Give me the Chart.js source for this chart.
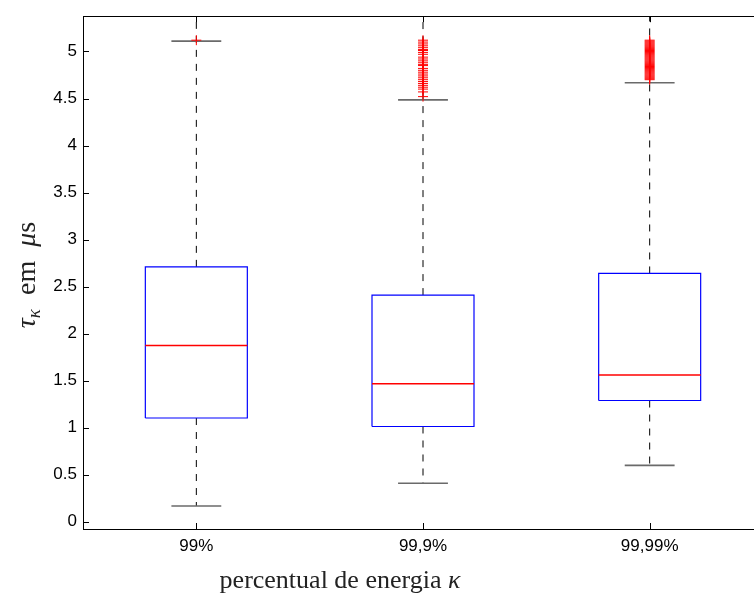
<!DOCTYPE html>
<html lang="pt">
<head>
<meta charset="UTF-8">
<title>Boxplot tau kappa</title>
<script src="https://cdn.jsdelivr.net/npm/chart.js"></script>
<style>
  html, body { margin: 0; padding: 0; background: #fff; overflow: hidden; }
</style>
</head>
<body>
<canvas id="myChart" width="770" height="596"></canvas>
<script>
// categories and box statistics (values in microseconds)
const categories = ['99%', '99,9%', '99,99%'];
const q1 = [1.103, 1.013, 1.289];
const median = [1.874, 1.467, 1.559];
const q3 = [2.71, 2.41, 2.64];
const whiskerLow = [0.168, 0.41, 0.599];
const whiskerHigh = [5.11, 4.485, 4.668];
const outliers = [
    [5.12],
    [4.52, 4.57, 4.60, 4.62, 4.64, 4.66, 4.68, 4.70, 4.72, 4.74, 4.76, 4.78, 4.80,
     4.82, 4.85, 4.86, 4.88, 4.90, 4.92, 4.94, 4.97, 4.99, 5.01, 5.02, 5.04, 5.06,
     5.08, 5.10, 5.12],
    [4.70, 4.71, 4.72, 4.73, 4.74, 4.75, 4.76, 4.77, 4.78, 4.79, 4.80, 4.81, 4.82,
     4.83, 4.84, 4.85, 4.86, 4.87, 4.88, 4.89, 4.90, 4.91, 4.92, 4.93, 4.94, 4.95,
     4.96, 4.97, 4.98, 4.99, 5.00, 5.01, 5.02, 5.03, 5.04, 5.05, 5.06, 5.07, 5.08,
     5.09, 5.10, 5.11, 5.12]
];
const yTicks = [0, 0.5, 1, 1.5, 2, 2.5, 3, 3.5, 4, 4.5, 5];
const yTickLabels = ['0', '0.5', '1', '1.5', '2', '2.5', '3', '3.5', '4', '4.5', '5'];
const yMin = -0.077, yMax = 5.375;

const boxHalf = 0.225;
const capHalf = 0.11;

function seg(data, color, width, dash, order) {
    return {
        data: data, showLine: true, borderColor: color, borderWidth: width,
        borderDash: dash || [], pointRadius: 0, fill: false, tension: 0, order: order
    };
}

const datasets = [];
categories.forEach((c, i) => {
    const x = i + 1;
    // whiskers (dashed) - upper one runs to the top of the axes
    datasets.push(seg([{x: x, y: q3[i]}, {x: x, y: yMax}], '#000', 1, [7, 7], 5));
    datasets.push(seg([{x: x, y: q1[i]}, {x: x, y: whiskerLow[i]}], '#000', 1, [7, 7], 5));
    // caps
    datasets.push(seg([{x: x - capHalf, y: whiskerHigh[i]}, {x: x + capHalf, y: whiskerHigh[i]}], '#6a6a6a', 1.6, null, 4));
    datasets.push(seg([{x: x - capHalf, y: whiskerLow[i]}, {x: x + capHalf, y: whiskerLow[i]}], '#6a6a6a', 1.6, null, 4));
    // box
    datasets.push(seg([
        {x: x - boxHalf, y: q1[i]}, {x: x + boxHalf, y: q1[i]},
        {x: x + boxHalf, y: q3[i]}, {x: x - boxHalf, y: q3[i]},
        {x: x - boxHalf, y: q1[i]}
    ], '#0000ff', 1.2, null, 3));
    // median
    datasets.push(seg([{x: x - boxHalf, y: median[i]}, {x: x + boxHalf, y: median[i]}], '#ff0000', 1.5, null, 2));
    // outliers
    datasets.push({
        data: outliers[i].map(v => ({x: x, y: v})),
        showLine: false, pointStyle: 'cross', pointRadius: 5, pointHoverRadius: 5,
        pointBorderColor: '#ff0000', pointBackgroundColor: '#ff0000',
        pointBorderWidth: 1, order: 1
    });
});

const frame = {
    id: 'frame',
    afterDraw(chart) {
        const ctx = chart.ctx;
        const a = chart.chartArea;
        const xs = chart.scales.x, ys = chart.scales.y;
        ctx.save();
        ctx.strokeStyle = '#000';
        ctx.lineWidth = 1;
        ctx.strokeRect(Math.round(a.left) + 0.5, Math.round(a.top) + 0.5,
            Math.round(a.right - a.left), Math.round(a.bottom - a.top));
        ctx.beginPath();
        yTicks.forEach(v => {
            const py = Math.round(ys.getPixelForValue(v)) + 0.5;
            ctx.moveTo(a.left, py); ctx.lineTo(a.left + 6, py);
            ctx.moveTo(a.right, py); ctx.lineTo(a.right - 6, py);
        });
        categories.forEach((c, i) => {
            const px = Math.round(xs.getPixelForValue(i + 1)) + 0.5;
            ctx.moveTo(px, a.bottom); ctx.lineTo(px, a.bottom - 6);
            ctx.moveTo(px, a.top); ctx.lineTo(px, a.top + 6);
        });
        ctx.stroke();

        // axis titles
        ctx.fillStyle = '#222';
        ctx.textBaseline = 'alphabetic';
        const xParts = [
            {t: 'percentual de energia ', f: '26px "Liberation Serif"', dy: 0},
            {t: 'κ', f: 'italic 26px "Liberation Serif"', dy: 0}
        ];
        drawParts(ctx, xParts, 340, 588);

        ctx.translate(35, 275);
        ctx.rotate(-Math.PI / 2);
        const yParts = [
            {t: 'τ', f: 'italic 28px "Liberation Serif"', dy: 0},
            {t: 'κ', f: 'italic 19px "Liberation Serif"', dy: 5},
            {t: '  em  ', f: '28px "Liberation Serif"', dy: 0},
            {t: 'μ', f: 'italic 28px "Liberation Serif"', dy: 0},
            {t: 's', f: '28px "Liberation Serif"', dy: 0}
        ];
        drawParts(ctx, yParts, 0, 0);
        ctx.restore();
    }
};

function drawParts(ctx, parts, cx, by) {
    let total = 0;
    parts.forEach(p => { ctx.font = p.f; p.w = ctx.measureText(p.t).width; total += p.w; });
    let x = cx - total / 2;
    ctx.textAlign = 'left';
    parts.forEach(p => { ctx.font = p.f; ctx.fillText(p.t, x, by + p.dy); x += p.w; });
}

new Chart(document.getElementById('myChart').getContext('2d'), {
    type: 'scatter',
    data: { datasets: datasets },
    options: {
        responsive: false,
        animation: false,
        events: [],
        layout: { padding: { top: 10, right: 7, left: 0, bottom: 0 } },
        plugins: { legend: { display: false }, tooltip: { enabled: false } },
        scales: {
            x: {
                type: 'linear', min: 0.5, max: 3.5,
                grid: { display: false, drawTicks: false }, border: { display: false },
                afterBuildTicks: s => { s.ticks = categories.map((c, i) => ({value: i + 1})); },
                afterFit: s => { s.height = 67; },
                ticks: {
                    padding: 7, color: '#000', maxRotation: 0, autoSkip: false,
                    font: { family: '"Liberation Sans", Arial, sans-serif', size: 17 },
                    callback: (v) => categories[Math.round(v) - 1]
                }
            },
            y: {
                type: 'linear', min: yMin, max: yMax,
                grid: { display: false, drawTicks: false }, border: { display: false },
                afterBuildTicks: s => { s.ticks = yTicks.map(v => ({value: v})); },
                afterFit: s => { s.width = 83; },
                ticks: {
                    padding: 6, color: '#000', autoSkip: false,
                    font: { family: '"Liberation Sans", Arial, sans-serif', size: 17 },
                    callback: (v) => yTickLabels[yTicks.indexOf(v)]
                }
            }
        }
    },
    plugins: [frame]
});
</script>
</body>
</html>
